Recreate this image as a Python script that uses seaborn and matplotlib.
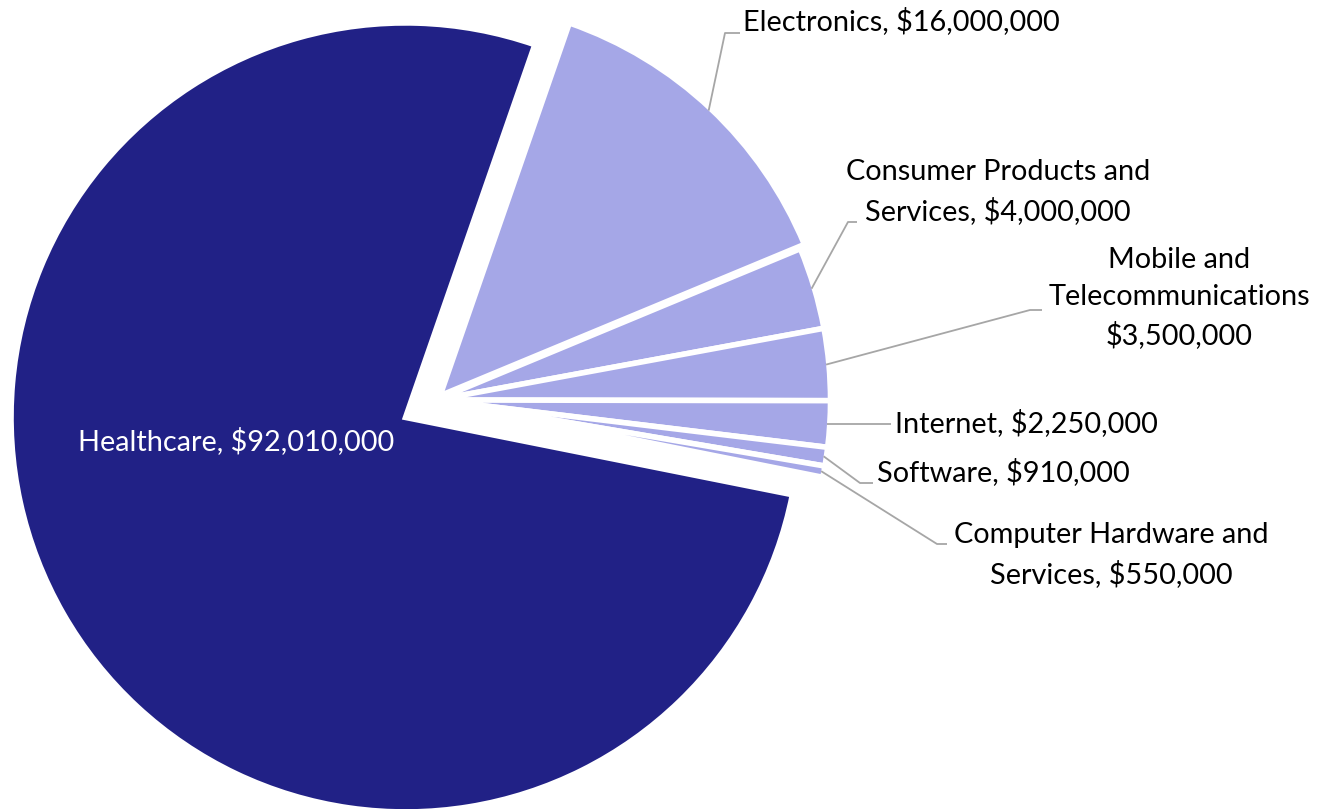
import numpy as np
import matplotlib.pyplot as plt
import seaborn as sns

sectors = ["Healthcare", "Electronics", "Consumer Products and Services", "Mobile and Telecommunications",
           "Internet", "Software", "Computer Hardware and Services"]
amounts = [92010000, 16000000, 4000000, 3500000, 2250000, 910000, 550000]
labels = ["Healthcare, $92,010,000",
          "Electronics, $16,000,000",
          "Consumer Products and\nServices, $4,000,000",
          "Mobile and\nTelecommunications\n$3,500,000",
          "Internet, $2,250,000",
          "Software, $910,000",
          "Computer Hardware and\nServices, $550,000"]
explode = [0.089, 0.015, 0, 0, 0, 0, 0]

sns.set_theme(style="white")
plt.rcParams['font.family'] = ['Lato', 'DejaVu Sans']

navy = "#212186"
lavender = "#A5A7E7"
colors = [navy] + [lavender] * (len(amounts) - 1)

W, H = 1336, 809
PX = 394.5          # pixels per unit radius
CX, CY = 436, 400   # pie centre in pixels (from top-left)
FS = 20.8


def to_data(x, y):
    return (x - CX) / PX, (CY - y) / PX


fig = plt.figure(figsize=(W / 100, H / 100), dpi=100)
ax = fig.add_axes([0, 0, 1, 1])
wedges, _ = ax.pie(amounts, colors=colors, explode=explode, startangle=-11.3, counterclock=False,
                   radius=1, wedgeprops=dict(edgecolor="white", linewidth=4))
ax.set_xlim(-CX / PX, (W - CX) / PX)
ax.set_ylim(-(H - CY) / PX, CY / PX)
ax.set_position([0, 0, 1, 1])
ax.axis("off")

# label placement: (text x, text y, ha, elbow, end of leader) in pixels
layout = [
    None,
    (743, 21, "left", (725, 33), (740, 33)),
    (998, 192, "center", (848, 222), (857, 222)),
    (1179, 298, "center", (1030, 310), (1042, 310)),
    (895, 423, "left", (878, 432), (891, 432)),
    (877, 472, "left", (860, 483), (873, 483)),
    (1111, 555, "center", (937, 544), (947, 544)),
]

# Healthcare label inside
hx, hy = to_data(236, 441)
ax.text(hx, hy, labels[0], color="white", fontsize=FS, ha="center", va="center")

for w, lab, lay in zip(wedges, labels, layout):
    if lay is None:
        continue
    tx, ty, ha, elbow, end = lay
    ang = np.deg2rad((w.theta1 + w.theta2) / 2)
    r = w.r - 2.8 / PX
    ax0 = w.center[0] + r * np.cos(ang)
    ay0 = w.center[1] + r * np.sin(ang)
    ex, ey = to_data(*elbow)
    fx, fy = to_data(*end)
    if lay[0] == 895:
        ey = ay0
        fy = ay0
    ax.plot([ax0, ex, fx], [ay0, ey, fy], color="#A6A6A6", lw=1.3, solid_capstyle="butt")
    px_, py_ = to_data(tx, ty)
    ax.text(px_, py_, lab, color="black", fontsize=FS, ha=ha, va="center",
            multialignment="center", linespacing=1.5)

fig.savefig("out.png", dpi=100)
